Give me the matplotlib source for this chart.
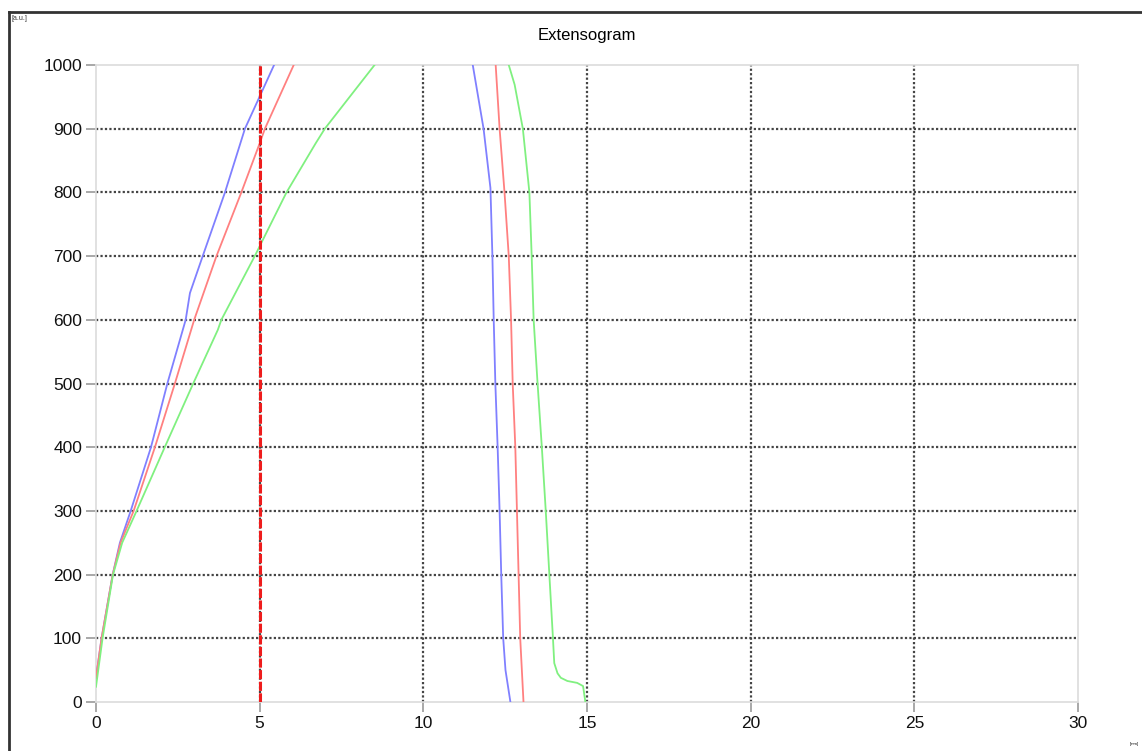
import matplotlib
matplotlib.use("Agg")
import matplotlib.pyplot as plt
from matplotlib.lines import Line2D

plt.rcParams['font.family'] = ['Liberation Sans', 'DejaVu Sans']

# Data (extension in mm, resistance in a.u.); each curve leaves the top of the
# scale, so the rising and falling parts are kept apart.
blue_rise_x = [0.0, 0.17, 0.51, 0.73, 1.06, 1.68, 2.18, 2.74, 2.87, 3.26, 3.94, 4.55, 5.44]
blue_rise_y = [38, 100, 200, 250, 300, 400, 500, 600, 642, 700, 800, 900, 1000]
blue_fall_x = [11.51, 11.84, 12.05, 12.11, 12.15, 12.2, 12.27, 12.33, 12.38, 12.44, 12.51, 12.66]
blue_fall_y = [1000, 900, 807, 700, 600, 500, 400, 300, 200, 100, 50, 0]

red_rise_x = [0.0, 0.17, 0.51, 0.75, 1.15, 1.8, 2.41, 3.0, 3.68, 4.44, 5.0, 5.16, 6.04]
red_rise_y = [38, 100, 200, 250, 300, 400, 500, 600, 700, 800, 877, 900, 1000]
red_fall_x = [12.21, 12.33, 12.48, 12.61, 12.68, 12.73, 12.81, 12.86, 12.91, 12.96, 13.06]
red_fall_y = [1000, 900, 800, 700, 600, 500, 400, 300, 200, 100, 0]

green_rise_x = [0.0, 0.2, 0.52, 0.8, 1.24, 2.1, 2.97, 3.72, 3.83, 4.85, 5.82, 6.71, 6.99, 8.51]
green_rise_y = [24, 100, 200, 250, 300, 400, 500, 584, 600, 700, 800, 877, 900, 1000]
green_fall_x = [12.61, 12.79, 13.04, 13.24, 13.31, 13.37, 13.49, 13.62, 13.74, 13.85, 13.96,
                14.0, 14.1, 14.2, 14.4, 14.7, 14.88, 14.95]
green_fall_y = [1000, 969, 900, 800, 700, 600, 500, 400, 300, 200, 100,
                61, 45, 38, 33, 30, 25, 0]

marker_x = 5.0
x_ticks = [0, 5, 10, 15, 20, 25, 30]
y_ticks = [0, 100, 200, 300, 400, 500, 600, 700, 800, 900, 1000]

W, H = 1142, 751
fig = plt.figure(figsize=(W / 100, H / 100), dpi=100)
fig.patch.set_facecolor('white')

ax = fig.add_axes([96 / W, 1 - 702 / H, (1078 - 96) / W, (702 - 65) / H])
ax.set_xlim(0, 30)
ax.set_ylim(0, 1000)
ax.set_xticks(x_ticks)
ax.set_yticks(y_ticks)
ax.tick_params(axis='both', labelsize=12.5, length=7, color='#999999', width=1.2, pad=3,
               labelcolor='#111111')
for s in ax.spines.values():
    s.set_color('#dcdcdc')
    s.set_linewidth(1.2)

# grid lines (interior only)
for yv in y_ticks[1:-1]:
    ax.axhline(yv, color='#444444', linestyle=(0, (1, 1)), linewidth=1.6, zorder=1)
for xv in x_ticks[1:-1]:
    ax.axvline(xv, color='#444444', linestyle=(0, (1, 1)), linewidth=1.6, zorder=1)

for xs, ys, c in [(blue_rise_x, blue_rise_y, '#8080ff'), (blue_fall_x, blue_fall_y, '#8080ff'),
                  (red_rise_x, red_rise_y, '#ff8080'), (red_fall_x, red_fall_y, '#ff8080'),
                  (green_rise_x, green_rise_y, '#80f080'), (green_fall_x, green_fall_y, '#80f080')]:
    ax.plot(xs, ys, color=c, linewidth=1.3, zorder=3, solid_joinstyle='round')

ax.axvline(marker_x, color='#ee1c1c', linestyle=(0, (3, 0.8)), linewidth=2.2, zorder=4)

ax.set_title('Extensogram', fontsize=12, pad=18)

# outer frame lines (left and top)
fig.add_artist(Line2D([9 / W, 9 / W], [0, 1 - 12 / H], transform=fig.transFigure,
                      color='#333333', linewidth=2))
fig.add_artist(Line2D([9 / W, 1], [1 - 12 / H, 1 - 12 / H], transform=fig.transFigure,
                      color='#333333', linewidth=2))

fig.text(12 / W, 1 - 18 / H, '[a.u.]', fontsize=5, ha='left', va='center', color='#333333')
fig.text(1139 / W, 1 - 744 / H, '[mm]', fontsize=3, ha='right', va='center')

fig.savefig('out.png', dpi=100)
